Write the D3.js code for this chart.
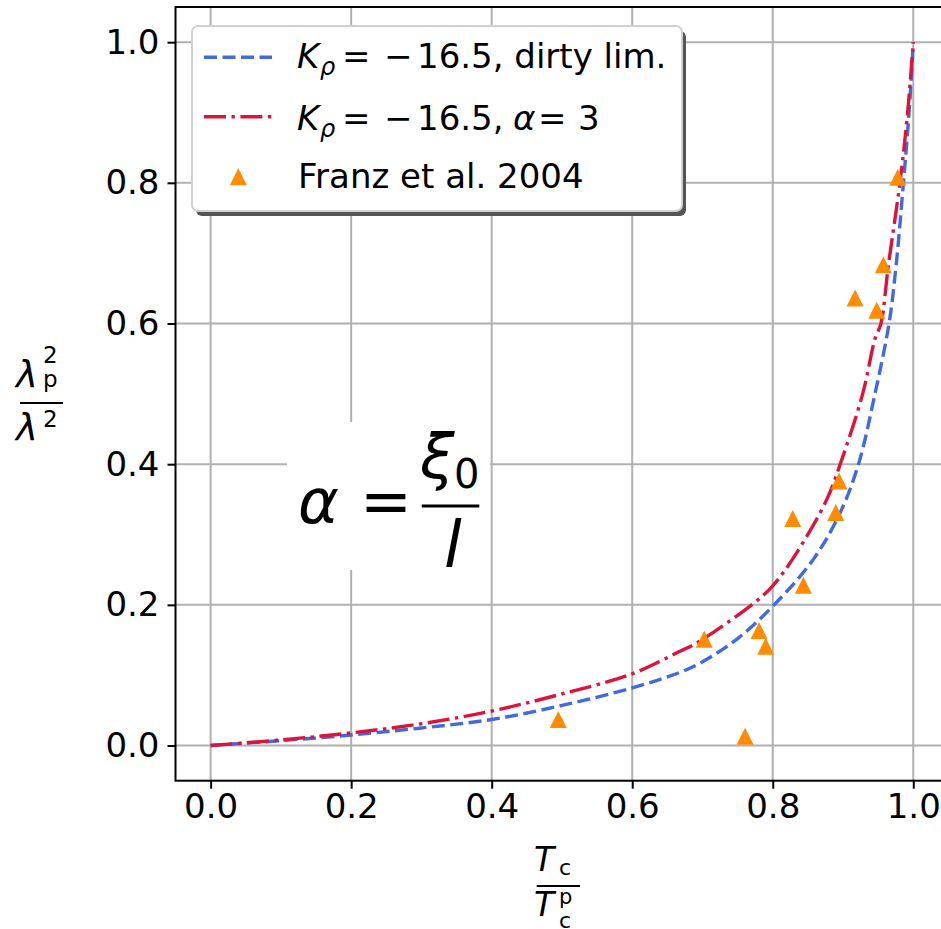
<!DOCTYPE html>
<html>
<head>
<meta charset="utf-8">
<script src="https://cdn.jsdelivr.net/npm/d3@7"></script>
<style>
  body { margin: 0; background: #fff; }
  svg { display: block; }
  text { font-family: "DejaVu Sans", sans-serif; }
</style>
</head>
<body>
<div id="chart"></div>
<script>
// data
var tickValues = [0.0, 0.2, 0.4, 0.6, 0.8, 1.0];

// K_rho = -16.5, dirty limit (blue dashed)
var dirtyX = [0, 0.1, 0.2, 0.3, 0.4, 0.5, 0.6, 0.668, 0.7, 0.75, 0.8, 0.858, 0.896, 0.922, 0.9455, 0.9655, 0.9755, 0.986, 0.994, 1.0];
var dirtyY = [0, 0.007, 0.015, 0.025, 0.037, 0.057, 0.082, 0.104, 0.119, 0.152, 0.198, 0.265, 0.331, 0.40, 0.50, 0.60, 0.682, 0.80, 0.90, 1.0];

// K_rho = -16.5, alpha = 3 (red dash-dot)
var alphaX = [0, 0.1, 0.2, 0.3, 0.4, 0.497, 0.6, 0.668, 0.692, 0.77, 0.8, 0.834, 0.877, 0.896, 0.928, 0.9455, 0.954, 0.9645, 0.981, 0.992, 1.0];
var alphaY = [0, 0.008, 0.018, 0.031, 0.049, 0.0726, 0.102, 0.134, 0.146, 0.20, 0.227, 0.274, 0.350, 0.40, 0.50, 0.578, 0.60, 0.682, 0.80, 0.90, 1.0];

// Franz et al. 2004
var franzX = [0.4948, 0.7025, 0.7606, 0.7805, 0.790, 0.8285, 0.8436, 0.8897, 0.8944, 0.9172, 0.948, 0.9575, 0.978];
var franzY = [0.037, 0.151, 0.0132, 0.1637, 0.141, 0.3227, 0.2278, 0.3312, 0.3762, 0.6363, 0.619, 0.6837, 0.808];

var legendLabels = ["dirty lim.", "α = 3", "Franz et al. 2004"];

// SETUP
var W = 941, H = 929;
var blue = "#4169E1", red = "#DC143C", orange = "#FF8C00";

var x = d3.scaleLinear().domain([-0.05, 1.05]).range([175.5, 948.4]);
var y = d3.scaleLinear().domain([-0.05, 1.05]).range([780.7, 7]);

var svg = d3.select("#chart")
  .append("svg")
  .attr("width", W)
  .attr("height", H);

svg.append("defs").append("clipPath")
  .attr("id", "plotclip")
  .append("rect")
  .attr("x", x(-0.05)).attr("y", y(1.05))
  .attr("width", x(1.05) - x(-0.05))
  .attr("height", y(-0.05) - y(1.05));

// grid
var grid = svg.append("g").attr("class", "grid");
grid.selectAll(".gx")
  .data(tickValues).enter()
  .append("line")
  .attr("x1", function(d) { return x(d); })
  .attr("x2", function(d) { return x(d); })
  .attr("y1", y(-0.05)).attr("y2", y(1.05))
  .attr("stroke", "#b0b0b0").attr("stroke-width", 2);
grid.selectAll(".gy")
  .data(tickValues).enter()
  .append("line")
  .attr("y1", function(d) { return y(d); })
  .attr("y2", function(d) { return y(d); })
  .attr("x1", x(-0.05)).attr("x2", x(1.05))
  .attr("stroke", "#b0b0b0").attr("stroke-width", 2);

// curves
var plot = svg.append("g").attr("clip-path", "url(#plotclip)");

var line = d3.line()
  .x(function(d) { return x(d[0]); })
  .y(function(d) { return y(d[1]); })
  .curve(d3.curveCatmullRom.alpha(0.5));

plot.append("path")
  .datum(d3.zip(dirtyX, dirtyY))
  .attr("d", line)
  .attr("fill", "none")
  .attr("stroke", blue)
  .attr("stroke-width", 3.4)
  .attr("stroke-dasharray", "13,5.5");

plot.append("path")
  .datum(d3.zip(alphaX, alphaY))
  .attr("d", line)
  .attr("fill", "none")
  .attr("stroke", red)
  .attr("stroke-width", 3.4)
  .attr("stroke-dasharray", "22,5.5,3.4,5.5");

// triangles
function tri(cx, cy, s) {
  return "M" + cx + "," + (cy - s) + "L" + (cx - s) + "," + (cy + s) + "L" + (cx + s) + "," + (cy + s) + "Z";
}
plot.selectAll(".pt")
  .data(d3.zip(franzX, franzY)).enter()
  .append("path")
  .attr("d", function(d) { return tri(x(d[0]), y(d[1]), 8.5); })
  .attr("fill", orange);

// axes
var xAxis = d3.axisBottom(x).tickValues(tickValues).tickSize(8).tickPadding(6)
  .tickFormat(d3.format(".1f"));
var yAxis = d3.axisLeft(y).tickValues(tickValues).tickSize(8).tickPadding(8)
  .tickFormat(d3.format(".1f"));

var gx = svg.append("g")
  .attr("transform", "translate(0," + y(-0.05) + ")")
  .call(xAxis);
var gy = svg.append("g")
  .attr("transform", "translate(" + x(-0.05) + ",0)")
  .call(yAxis);

[gx, gy].forEach(function(g) {
  g.select(".domain").remove();
  g.selectAll(".tick line").attr("stroke", "#000").attr("stroke-width", 2);
  g.selectAll(".tick text")
    .attr("font-family", "DejaVu Sans")
    .attr("font-size", 34)
    .attr("fill", "#000");
});
gx.selectAll(".tick text").attr("dy", "0.7em");

// spines (right one falls outside the picture)
svg.append("rect")
  .attr("x", x(-0.05)).attr("y", y(1.05))
  .attr("width", x(1.05) - x(-0.05))
  .attr("height", y(-0.05) - y(1.05))
  .attr("fill", "none")
  .attr("stroke", "#000")
  .attr("stroke-width", 2);

// formula box: alpha = xi_0 / l
var fbox = svg.append("g");
fbox.append("rect")
  .attr("x", 287).attr("y", 422)
  .attr("width", 203).attr("height", 148)
  .attr("fill", "#fff");
var serif = "'Liberation Serif', 'DejaVu Serif', serif";
fbox.append("text")
  .attr("x", 298).attr("y", 523)
  .attr("font-family", serif).attr("font-style", "italic")
  .attr("font-size", 62)
  .text("α");
fbox.append("text")
  .attr("x", 360).attr("y", 523)
  .attr("font-family", serif)
  .attr("font-size", 62)
  .text("=");
fbox.append("text")
  .attr("x", 420).attr("y", 478)
  .attr("font-family", serif).attr("font-style", "italic")
  .attr("font-size", 62)
  .text("ξ");
fbox.append("text")
  .attr("x", 454).attr("y", 488)
  .attr("font-family", serif)
  .attr("font-size", 40)
  .text("0");
fbox.append("line")
  .attr("x1", 421.7).attr("x2", 479.3)
  .attr("y1", 506).attr("y2", 506)
  .attr("stroke", "#000").attr("stroke-width", 3);
fbox.append("text")
  .attr("x", 444).attr("y", 567)
  .attr("font-family", serif).attr("font-style", "italic")
  .attr("font-size", 64)
  .text("l");

// y label: lambda_p^2 / lambda^2
var yl = svg.append("g");
yl.append("text").attr("x", 16).attr("y", 387)
  .attr("font-style", "italic").attr("font-size", 37).text("λ");
yl.append("text").attr("x", 43).attr("y", 363)
  .attr("font-size", 23).text("2");
yl.append("text").attr("x", 43).attr("y", 387)
  .attr("font-size", 23).text("p");
yl.append("line").attr("x1", 20).attr("x2", 63)
  .attr("y1", 403).attr("y2", 403)
  .attr("stroke", "#000").attr("stroke-width", 2);
yl.append("text").attr("x", 16).attr("y", 440)
  .attr("font-style", "italic").attr("font-size", 37).text("λ");
yl.append("text").attr("x", 43).attr("y", 427)
  .attr("font-size", 23).text("2");

// x label: T_c / T_c^p
var xl = svg.append("g");
xl.append("text").attr("x", 534).attr("y", 871)
  .attr("font-style", "italic").attr("font-size", 33).text("T");
xl.append("text").attr("x", 559).attr("y", 875)
  .attr("font-size", 22).text("c");
xl.append("line").attr("x1", 536.7).attr("x2", 580)
  .attr("y1", 886).attr("y2", 886)
  .attr("stroke", "#000").attr("stroke-width", 2);
xl.append("text").attr("x", 534).attr("y", 916)
  .attr("font-style", "italic").attr("font-size", 33).text("T");
xl.append("text").attr("x", 559).attr("y", 904)
  .attr("font-size", 21).text("p");
xl.append("text").attr("x", 559).attr("y", 928)
  .attr("font-size", 22).text("c");

// legend
var lg = svg.append("g");
lg.append("rect")
  .attr("x", 196).attr("y", 31)
  .attr("width", 490).attr("height", 185)
  .attr("rx", 6)
  .attr("fill", "#555");
lg.append("rect")
  .attr("x", 192).attr("y", 26)
  .attr("width", 490).attr("height", 185)
  .attr("rx", 6)
  .attr("fill", "#fff")
  .attr("stroke", "#d0d0d0")
  .attr("stroke-width", 2);

lg.append("line")
  .attr("x1", 204).attr("x2", 272).attr("y1", 57.3).attr("y2", 57.3)
  .attr("stroke", blue).attr("stroke-width", 3.4)
  .attr("stroke-dasharray", "13,5.5");
lg.append("line")
  .attr("x1", 204).attr("x2", 272).attr("y1", 116.7).attr("y2", 116.7)
  .attr("stroke", red).attr("stroke-width", 3.4)
  .attr("stroke-dasharray", "22,5.5,3.4,5.5");
lg.append("path")
  .attr("d", tri(238.3, 176.7, 8.5))
  .attr("fill", orange);

function kLabel(baseY) {
  var t = lg.append("text").attr("y", baseY).attr("font-size", 34);
  t.append("tspan").attr("x", 297).attr("font-style", "italic").text("K");
  t.append("tspan").attr("x", 320).attr("dy", 6.5).attr("font-size", 24)
    .attr("font-style", "italic").text("ρ");
  t.append("tspan").attr("x", 342).attr("dy", -6.5).text("=");
  t.append("tspan").attr("x", 384).text("−");
  return t;
}
var t1 = kLabel(68.3);
t1.append("tspan").attr("x", 417).text("16.5, " + legendLabels[0]);

var t2 = kLabel(130);
t2.append("tspan").attr("x", 417).text("16.5,");
t2.append("tspan").attr("x", 513).attr("font-style", "italic").text("α");
t2.append("tspan").attr("x", 538).text("=");
t2.append("tspan").attr("x", 578).text("3");

lg.append("text")
  .attr("x", 298).attr("y", 188.3)
  .attr("font-size", 34)
  .text(legendLabels[2]);
</script>
</body>
</html>
